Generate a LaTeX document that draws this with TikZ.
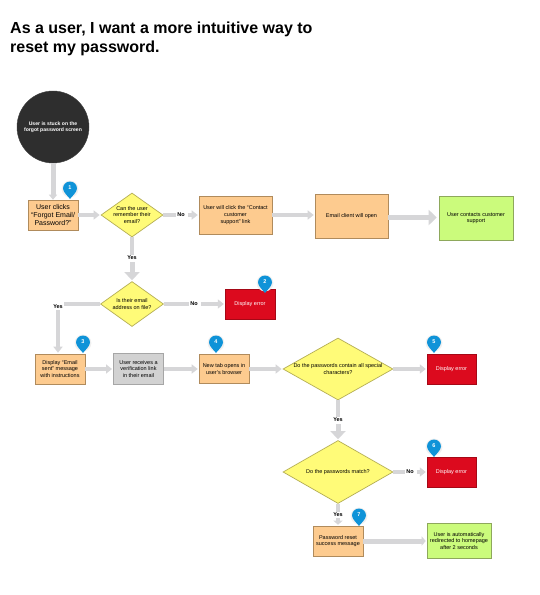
\documentclass[tikz,border=0pt]{standalone}
\usepackage{fontspec}
\setmainfont{Liberation Sans}
\usetikzlibrary{arrows.meta,shapes.geometric,calc}
\definecolor{gl}{HTML}{D6D6D8}
\definecolor{orbox}{HTML}{FDCB8F}
\definecolor{orline}{HTML}{B08B5C}
\definecolor{yel}{HTML}{FFFB78}
\definecolor{yelline}{HTML}{B5AE55}
\definecolor{grn}{HTML}{CBFB7C}
\definecolor{grnline}{HTML}{8EA85C}
\definecolor{redb}{HTML}{DC0A1E}
\definecolor{pinb}{HTML}{0F93D8}
\tikzset{
 txt/.style={font=\fontsize{5.5}{6.6}\selectfont,align=center,text=black},
 proc/.style 2 args={draw=orline,line width=.6pt,fill=orbox,minimum width=#1,minimum height=#2,inner sep=0,txt},
 greybox/.style 2 args={draw=gray!70,line width=1pt,fill=gray!35,minimum width=#1,minimum height=#2,inner sep=0,txt},
 good/.style 2 args={draw=grnline,line width=.6pt,fill=grn,minimum width=#1,minimum height=#2,inner sep=0,txt},
 bad/.style 2 args={draw=redb!75!black,line width=.4pt,fill=redb,minimum width=#1,minimum height=#2,inner sep=0,txt,text=white},
 dec/.style 2 args={diamond,draw=yelline,line width=.7pt,fill=yel,minimum width=#1,minimum height=#2,shape aspect=1.4,inner sep=0},
 dtxt/.style={label={[txt]center:#1}},
 ans/.style={font=\fontsize{5.5}{6.6}\selectfont\bfseries,inner sep=1pt},
 flow/.style={draw=gl,line width=3.5pt,-{Triangle[length=6pt,width=9pt]},shorten >=1pt},
 flowbig/.style={draw=gl,line width=5pt,-{Triangle[length=8pt,width=15pt]},shorten >=1pt},
 plain/.style={draw=gl,line width=3.5pt},
 pinnum/.style={font=\fontsize{5.5}{6}\selectfont\bfseries,text=white,inner sep=0},
}
\newcommand{\pinmark}[4]{% name, x, tip y, number
 \fill[white!88!gray] (#2,#3-10) circle (8.4);
 \fill[pinb] (#2-7,#3-10.5) .. controls (#2-6.5,#3-6) and (#2-2,#3-3) .. (#2,#3)
   .. controls (#2+2,#3-3) and (#2+6.5,#3-6) .. (#2+7,#3-10.5)
   arc[start angle=0,end angle=-180,radius=7] -- cycle;
 \node[pinnum] (#1) at (#2,#3-11.5) {#4};
}
\begin{document}
\begin{tikzpicture}[x=1pt,y=-1pt]
\useasboundingbox (0,0) rectangle (540,595);
\fill[white] (0,0) rectangle (540,595);
\node[anchor=north west,align=left,inner sep=0,font=\fontsize{16}{19}\selectfont\bfseries] (title) at (10,22) {As a user, I want a more intuitive way to\\reset my password.};

% nodes
\node[circle,draw=black!75,fill=black!82,minimum size=72pt,inner sep=0,txt,text=white,font=\fontsize{5.1}{6.6}\selectfont\bfseries] (start) at (53,127) {User is stuck on the\\forgot password screen};
\node[proc={50pt}{30pt},font=\fontsize{7}{8.2}\selectfont] (clicks) at (53,215) {User clicks\\``Forgot Email/\\Password?''};
\node[dec={62pt}{44pt},dtxt={Can the user\\remember their\\email?}] (d1) at (132,215) {};
\node[proc={73pt}{38pt}] (contact) at (235.5,215) {User will click the ``Contact\\customer\\support'' link};
\node[proc={73pt}{44pt}] (client) at (351.5,216) {Email client will open};
\node[good={74pt}{44pt}] (supp) at (476,218) {User contacts customer\\support};
\node[dec={63pt}{45pt},dtxt={Is their email\\address on file?}] (d2) at (132,304) {};
\node[bad={50pt}{30pt}] (err2) at (250,304) {Display error};
\node[proc={50pt}{30pt}] (sent) at (60,369) {Display ``Email\\sent'' message\\with instructions};
\node[greybox={50pt}{31pt}] (verif) at (138.5,369) {User receives a\\verification link\\in their email};
\node[proc={50pt}{29pt}] (tab) at (224,369) {New tab opens in\\user's browser};
\node[dec={110pt}{62pt},dtxt={Do the passwords contain all special\\characters?}] (d3) at (338,369) {};
\node[bad={49pt}{30pt}] (err5) at (451.5,369) {Display error};
\node[dec={110pt}{63pt},dtxt={Do the passwords match?}] (d4) at (338,472) {};
\node[bad={49pt}{30pt}] (err6) at (451.5,472) {Display error};
\node[proc={50pt}{30pt}] (succ) at (338,541) {Password reset\\success message};
\node[good={64pt}{35pt}] (home) at (459,541) {User is automatically\\redirected to homepage\\after 2 seconds};

% answer labels
\node[ans] (no1) at (181,215) {No};
\node[ans] (yes1) at (132,258) {Yes};
\node[ans] (no2) at (194,304) {No};
\node[ans] (yes2) at (58,307) {Yes};
\node[ans] (yes3) at (338,420) {Yes};
\node[ans] (no4) at (410,472) {No};
\node[ans] (yes4) at (338,515) {Yes};

% connectors
\draw[draw=gl,line width=5pt,-{Triangle[length=5pt,width=8pt]}] (start.south) -- (clicks.north -| start.south);
\draw[flow] (clicks.east) -- (d1.west);
\draw[plain] (d1.east) -- (no1.west);
\draw[flow] (no1.east) ++(2,0) -- (contact.west);
\draw[flow] (contact.east) -- (contact.east -| client.west);
\draw[flowbig] (client.east) ++(0,1.5) -- ($(supp.west)+(-1,-.5)$);
\draw[plain] (d1.south) -- (yes1.north);
\draw[flowbig] (yes1.south) ++(0,1) -- (d2.north);
\draw[plain] (d2.east) -- (no2.west);
\draw[flow] (no2.east) ++(2,0) -- (err2.west);
\draw[plain] (d2.west) -- (yes2.east |- d2.west);
\draw[flow] (yes2.south) -- (yes2.south |- sent.north);
\draw[flow] (sent.east) -- (verif.west);
\draw[flow] (verif.east) -- (tab.west);
\draw[flow] (tab.east) -- (d3.west);
\draw[flow] (d3.east) -- (err5.west);
\draw[plain] (d3.south) -- (yes3.north);
\draw[flowbig] (yes3.south) ++(0,1) -- (d4.north);
\draw[plain] (d4.east) -- (no4.west);
\draw[flow] (no4.east) ++(2,0) -- (err6.west);
\draw[plain] (d4.south) -- (yes4.north);
\draw[flow,-{Triangle[length=4pt,width=9pt]}] (yes4.south) -- (succ.north);
\draw[flow,line width=5pt,-{Triangle[length=4pt,width=9pt]}] (succ.east) -- (home.west);

% pins
\pinmark{p1}{70}{199}{1}
\pinmark{p2}{265}{293}{2}
\pinmark{p3}{83}{353}{3}
\pinmark{p4}{216}{353}{4}
\pinmark{p5}{434}{353}{5}
\pinmark{p6}{434}{457}{6}
\pinmark{p7}{359}{526}{7}
\end{tikzpicture}
\end{document}
